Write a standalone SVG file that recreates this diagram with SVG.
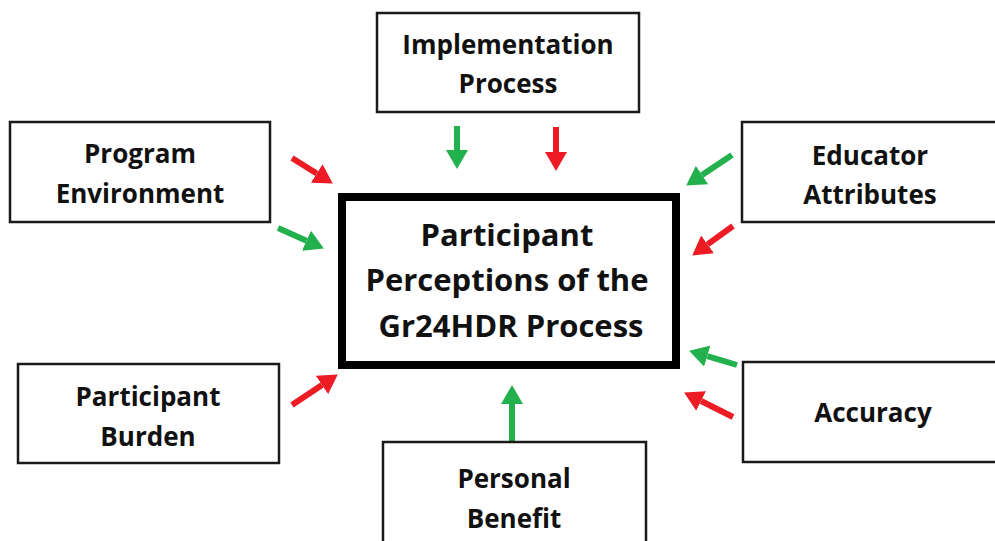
<svg xmlns="http://www.w3.org/2000/svg" width="995" height="541" viewBox="0 0 995 541">
<defs>
<style>
.box{fill:#fff;stroke:#1a1a1a;stroke-width:2.5}
.main{fill:#fff;stroke:#000;stroke-width:8}
.t{font-family:"Open Sans",Lato,"Liberation Sans",sans-serif;font-weight:bold;font-size:26px;fill:#111;text-anchor:middle}
.tm{font-size:31px}
.g{stroke:#22b14c;stroke-width:6;fill:none}
.r{stroke:#ed1c24;stroke-width:6;fill:none}
</style>
<marker id="hg" markerUnits="userSpaceOnUse" markerWidth="19" markerHeight="22" refX="0" refY="11" orient="auto" viewBox="0 0 19 22"><path d="M0,0 L19,11 L0,22 z" fill="#22b14c"/></marker>
<marker id="hr" markerUnits="userSpaceOnUse" markerWidth="19" markerHeight="22" refX="0" refY="11" orient="auto" viewBox="0 0 19 22"><path d="M0,0 L19,11 L0,22 z" fill="#ed1c24"/></marker>
</defs>
<rect width="995" height="541" fill="#fff"/>
<g id="connectors">
<line class="g" x1="457" y1="126" x2="457" y2="150" marker-end="url(#hg)"/>
<line class="r" x1="556" y1="127" x2="556" y2="152" marker-end="url(#hr)"/>
<line class="r" x1="292" y1="158" x2="316.7" y2="173.5" marker-end="url(#hr)"/>
<line class="g" x1="278" y1="228" x2="306.5" y2="240.7" marker-end="url(#hg)"/>
<line class="g" x1="732" y1="155" x2="702" y2="175" marker-end="url(#hg)"/>
<line class="r" x1="733" y1="226" x2="707.6" y2="244.4" marker-end="url(#hr)"/>
<line class="r" x1="292" y1="405" x2="322" y2="385" marker-end="url(#hr)"/>
<line class="g" x1="737" y1="365" x2="707.3" y2="356.1" marker-end="url(#hg)"/>
<line class="r" x1="733" y1="417" x2="701.1" y2="401" marker-end="url(#hr)"/>
<line class="g" x1="512" y1="443" x2="512" y2="404" marker-end="url(#hg)"/>
</g>
<g id="central">
<rect class="main" x="342" y="197" width="334" height="168"/>
<text class="t tm" x="507" y="246">Participant</text>
<text class="t tm" x="507" y="291">Perceptions of the</text>
<text class="t tm" x="511" y="337">Gr24HDR Process</text>
</g>
<g id="implementation">
<rect class="box" x="377" y="13" width="262" height="99"/>
<text class="t" x="508" y="54">Implementation</text>
<text class="t" x="508" y="93">Process</text>
</g>
<g id="program">
<rect class="box" x="10" y="122" width="260" height="100"/>
<text class="t" x="140" y="163">Program</text>
<text class="t" x="140" y="203">Environment</text>
</g>
<g id="educator">
<rect class="box" x="742" y="122" width="262" height="100"/>
<text class="t" x="870" y="165">Educator</text>
<text class="t" x="870" y="204">Attributes</text>
</g>
<g id="burden">
<rect class="box" x="18" y="364" width="261" height="99"/>
<text class="t" x="148" y="406">Participant</text>
<text class="t" x="148" y="446">Burden</text>
</g>
<g id="accuracy">
<rect class="box" x="743" y="362" width="262" height="100"/>
<text class="t" x="873" y="422">Accuracy</text>
</g>
<g id="benefit">
<rect class="box" x="383" y="442" width="263" height="110"/>
<text class="t" x="514" y="488">Personal</text>
<text class="t" x="514" y="528">Benefit</text>
</g>
</svg>
